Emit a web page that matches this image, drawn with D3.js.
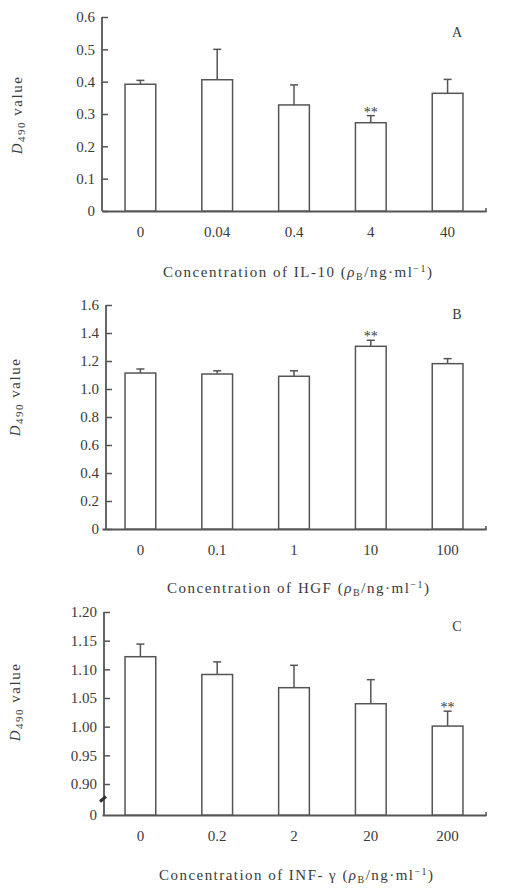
<!DOCTYPE html>
<html>
<head>
<meta charset="utf-8">
<script src="https://cdn.jsdelivr.net/npm/d3@7"></script>
<style>
  body { margin: 0; background: #fff; }
  svg text { font-family: "Times New Roman", "Liberation Serif", "DejaVu Serif", serif; fill: #3a3a3a; }
</style>
</head>
<body>
<div id="chart"></div>
<script>
// panel A : IL-10
var catsA = ["0", "0.04", "0.4", "4", "40"];
var meanA = [0.392, 0.406, 0.328, 0.273, 0.364];
var errA  = [0.012, 0.094, 0.062, 0.022, 0.043];
var sigA  = ["", "", "", "**", ""];
var ticksA = [0, 0.1, 0.2, 0.3, 0.4, 0.5, 0.6];

// panel B : HGF
var catsB = ["0", "0.1", "1", "10", "100"];
var meanB = [1.114, 1.107, 1.091, 1.305, 1.181];
var errB  = [0.029, 0.023, 0.039, 0.043, 0.036];
var sigB  = ["", "", "", "**", ""];
var ticksB = [0, 0.2, 0.4, 0.6, 0.8, 1.0, 1.2, 1.4, 1.6];

// panel C : INF-γ (broken axis)
var catsC = ["0", "0.2", "2", "20", "200"];
var meanC = [1.122, 1.091, 1.068, 1.040, 1.001];
var errC  = [0.022, 0.022, 0.039, 0.042, 0.026];
var sigC  = ["", "", "", "", "**"];
var ticksC = [0.90, 0.95, 1.00, 1.05, 1.10, 1.15, 1.20];

var ink = "#555";

var svg = d3.select("#chart").append("svg")
    .attr("width", 508)
    .attr("height", 890);

function drawPanel(p) {
    var x = d3.scaleBand()
        .domain(p.cats)
        .range([102, 486])
        .paddingInner(0.6)
        .paddingOuter(0.3);

    var y = d3.scaleLinear()
        .domain(p.domain)
        .range(p.range);

    var g = svg.append("g");

    // y axis
    var yAxis = d3.axisLeft(y)
        .tickValues(p.ticks)
        .tickSizeInner(-6)
        .tickSizeOuter(0)
        .tickPadding(7)
        .tickFormat(p.fmt);

    var ya = g.append("g")
        .attr("transform", "translate(" + p.axisX + ",0)")
        .call(yAxis);
    ya.select(".domain").remove();
    ya.selectAll("line").attr("stroke", ink).attr("stroke-width", 1.5);
    ya.selectAll("text").attr("font-size", 15);

    g.append("line")
        .attr("x1", p.axisX).attr("x2", p.axisX)
        .attr("y1", y(p.domain[1])).attr("y2", p.base)
        .attr("stroke", ink).attr("stroke-width", 1.8);

    if (p.broken) {
        // extra "0" at the baseline and the break mark
        g.append("text")
            .attr("x", p.axisX - 7).attr("y", p.base)
            .attr("dy", "0.32em")
            .attr("text-anchor", "end")
            .attr("font-size", 15)
            .text("0");
        var bm = (y(p.domain[0]) + p.base) / 2;
        g.append("line")
            .attr("x1", p.axisX - 4).attr("x2", p.axisX + 2)
            .attr("y1", bm + 2).attr("y2", bm - 3)
            .attr("stroke", "#333").attr("stroke-width", 3);
    }

    // x axis
    var xAxis = d3.axisBottom(x).tickSize(0).tickPadding(15);
    var xa = g.append("g")
        .attr("transform", "translate(0," + p.base + ")")
        .call(xAxis);
    xa.select(".domain").attr("stroke", ink).attr("stroke-width", 1.8);
    xa.selectAll("text").attr("font-size", 15);
    g.append("line")
        .attr("x1", 486).attr("x2", 486)
        .attr("y1", p.base - 3).attr("y2", p.base + 1)
        .attr("stroke", ink).attr("stroke-width", 1.5);

    var rows = p.cats.map(function (c, i) {
        return {cat: c, mean: p.mean[i], err: p.err[i], sig: p.sig[i]};
    });

    // error bars (upper only)
    g.selectAll(".err").data(rows).enter().append("line")
        .attr("x1", function (d) { return x(d.cat) + x.bandwidth() / 2; })
        .attr("x2", function (d) { return x(d.cat) + x.bandwidth() / 2; })
        .attr("y1", function (d) { return y(d.mean); })
        .attr("y2", function (d) { return y(d.mean + d.err); })
        .attr("stroke", ink).attr("stroke-width", 1.5);
    g.selectAll(".cap").data(rows).enter().append("line")
        .attr("x1", function (d) { return x(d.cat) + x.bandwidth() / 2 - 4; })
        .attr("x2", function (d) { return x(d.cat) + x.bandwidth() / 2 + 4; })
        .attr("y1", function (d) { return y(d.mean + d.err); })
        .attr("y2", function (d) { return y(d.mean + d.err); })
        .attr("stroke", ink).attr("stroke-width", 1.5);

    // bars
    g.selectAll(".bar").data(rows).enter().append("rect")
        .attr("x", function (d) { return x(d.cat); })
        .attr("width", x.bandwidth())
        .attr("y", function (d) { return y(d.mean); })
        .attr("height", function (d) { return p.base - y(d.mean); })
        .attr("fill", "#fff")
        .attr("stroke", ink).attr("stroke-width", 1.5);

    g.selectAll(".sig").data(rows).enter().append("text")
        .attr("x", function (d) { return x(d.cat) + x.bandwidth() / 2; })
        .attr("y", function (d) { return y(d.mean + d.err) + 1; })
        .attr("text-anchor", "middle")
        .attr("font-size", 14)
        .text(function (d) { return d.sig; });

    // panel letter
    g.append("text")
        .attr("x", 457).attr("y", p.letterY)
        .attr("dy", "0.35em")
        .attr("text-anchor", "middle")
        .attr("font-size", 14)
        .text(p.letter);

    // y label: D490 value
    var yl = g.append("text")
        .attr("transform", "translate(" + p.ylabX + "," + p.ylabY + ") rotate(-90)")
        .attr("text-anchor", "middle")
        .attr("font-size", 15)
        .attr("letter-spacing", 1.5);
    yl.append("tspan").attr("font-style", "italic").text("D");
    yl.append("tspan").attr("font-size", 11).attr("dy", 3).text("490");
    yl.append("tspan").attr("dy", -3).text(" value");

    // x title
    var xt = g.append("text")
        .attr("x", p.titleX0)
        .attr("y", p.titleY)
        .attr("dy", "0.35em")
        .attr("font-size", 15)
        .attr("textLength", p.titleX1 - p.titleX0)
        .attr("lengthAdjust", "spacing");
    xt.append("tspan").text(p.titleText + " (");
    xt.append("tspan").attr("font-style", "italic").text("ρ");
    xt.append("tspan").attr("font-size", 10).attr("dy", 3).text("B");
    xt.append("tspan").attr("dy", -3).text("/ng·ml");
    xt.append("tspan").attr("font-size", 10).attr("dy", -5).text("−1");
    xt.append("tspan").attr("dy", 5).text(")");
}

var fmt1 = function (d) { return d === 0 ? "0" : d.toFixed(1); };
var fmt2 = function (d) { return d.toFixed(2); };

drawPanel({
    cats: catsA, mean: meanA, err: errA, sig: sigA, ticks: ticksA, fmt: fmt1,
    domain: [0, 0.6], range: [211, 17], base: 211, axisX: 102,
    letter: "A", letterY: 32, ylabX: 22, ylabY: 115,
    titleText: "Concentration of IL-10", titleX0: 163, titleX1: 432, titleY: 272
});

drawPanel({
    cats: catsB, mean: meanB, err: errB, sig: sigB, ticks: ticksB, fmt: fmt1,
    domain: [0, 1.6], range: [529, 305], base: 529, axisX: 106,
    letter: "B", letterY: 314, ylabX: 20, ylabY: 397,
    titleText: "Concentration of HGF", titleX0: 167, titleX1: 429, titleY: 588
});

drawPanel({
    cats: catsC, mean: meanC, err: errC, sig: sigC, ticks: ticksC, fmt: fmt2,
    domain: [0.9, 1.2], range: [784, 612], base: 815, axisX: 104, broken: true,
    letter: "C", letterY: 626, ylabX: 20, ylabY: 702,
    titleText: "Concentration of INF- γ", titleX0: 159, titleX1: 433, titleY: 875
});
</script>
</body>
</html>
